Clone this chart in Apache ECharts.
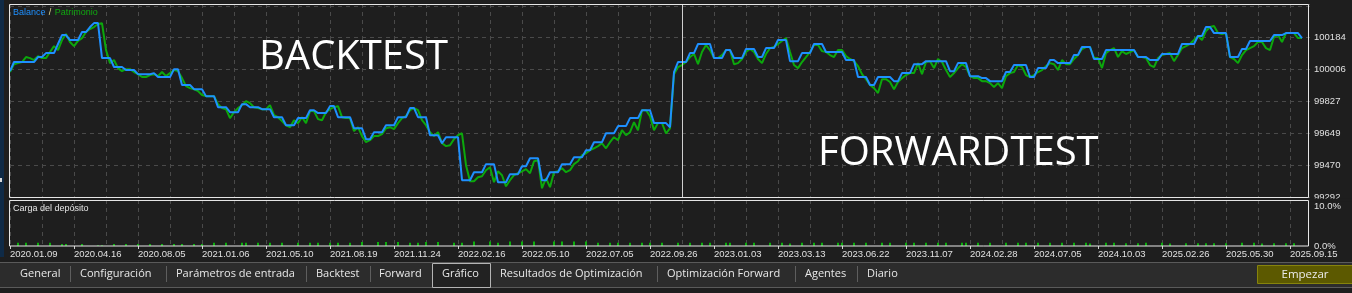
<!DOCTYPE html>
<html><head><meta charset="utf-8">
<script src="https://cdn.jsdelivr.net/npm/echarts@6/dist/echarts.min.js"></script>
<style>html,body{margin:0;padding:0;background:#1e1e1e;overflow:hidden}#c{width:1352px;height:293px}</style>
</head><body><div id="c"></div><script>
// ---- data ----
const dateLabels = ['2020.01.09','2020.04.16','2020.08.05','2021.01.06','2021.05.10','2021.08.19','2021.11.24',
  '2022.02.16','2022.05.10','2022.07.05','2022.09.26','2023.01.03','2023.03.13','2023.06.22','2023.11.07',
  '2024.02.28','2024.07.05','2024.10.03','2025.02.26','2025.05.30','2025.09.15'];
const yTickLabels = ['99292','99470','99649','99827','100006','100184'];
const loadTickLabels = ['0.0%','10.0%'];
const splitTradeIndex = 168;

const balance = [
99997,100048,100048,100048,100048,100048,100048,100076,100076,100098,
100098,100098,100149,100199,100199,100171,100171,100171,100216,100216,
100244,100266,100266,100070,100070,100070,100020,100020,100020,100003,
100003,100003,99980,99980,99980,99980,99986,99964,99964,99964,
99964,100008,100008,99919,99919,99919,99896,99896,99896,99857,
99857,99857,99795,99795,99795,99767,99767,99767,99812,99812,
99795,99795,99795,99784,99784,99784,99739,99739,99739,99694,
99694,99694,99734,99734,99734,99778,99778,99762,99762,99762,
99801,99801,99739,99739,99739,99739,99677,99677,99677,99616,
99616,99655,99655,99655,99694,99694,99694,99739,99739,99739,
99790,99790,99739,99739,99739,99638,99638,99638,99593,99627,
99627,99627,99627,99386,99386,99386,99431,99431,99431,99476,
99476,99476,99375,99375,99375,99420,99420,99420,99464,99464,
99509,99509,99509,99386,99386,99431,99431,99431,99476,99476,
99476,99515,99515,99515,99554,99554,99599,99599,99599,99649,
99649,99649,99689,99689,99689,99734,99734,99734,99778,99778,
99778,99706,99706,99706,99706,99683,99992,100048,100048,100048,
100098,100098,100149,100149,100149,100149,100070,100070,100070,100115,
100115,100070,100070,100070,100121,100121,100121,100076,100076,100126,
100126,100126,100171,100171,100171,100053,100053,100053,100098,100098,
100098,100149,100149,100149,100104,100104,100104,100104,100104,100059,
100059,100059,99964,99964,99964,99919,99919,99964,99964,99964,
99964,99941,99941,99986,99986,99986,100036,100036,100036,100053,
100053,100053,100053,100053,100053,99997,99997,100042,100042,100042,
99969,99969,99969,99958,99958,99941,99941,99941,99941,99992,
99992,100031,100031,100031,100031,99964,99964,100014,100014,100014,
100059,100059,100042,100042,100042,100042,100087,100087,100132,100132,
100132,100065,100065,100065,100115,100115,100115,100115,100115,100115,
100115,100115,100076,100076,100076,100059,100059,100059,100093,100093,
100093,100093,100093,100149,100149,100149,100149,100194,100194,100244,
100244,100210,100210,100210,100210,100076,100076,100076,100121,100121,
100166,100166,100166,100166,100166,100166,100199,100199,100199,100210,
100210,100210,100210,100182];

const equity = [
99992,100036,100042,100048,100076,100070,100059,100081,100070,100070,
100104,100137,100115,100171,100205,100160,100137,100166,100182,100216,
100233,100244,100261,100266,100115,100042,100059,100014,99997,100008,
100008,99992,99980,99964,99964,99975,99980,99969,99992,99969,
99986,100003,99997,99958,99913,99902,99896,99885,99863,99857,
99857,99857,99812,99790,99784,99734,99767,99790,99806,99829,
99818,99795,99790,99784,99784,99806,99750,99739,99717,99694,
99683,99722,99706,99739,99706,99773,99773,99728,99722,99767,
99784,99795,99801,99739,99734,99734,99661,99683,99633,99599,
99610,99633,99633,99644,99677,99683,99672,99706,99734,99745,
99778,99790,99778,99722,99694,99655,99633,99655,99593,99577,
99582,99616,99638,99649,99470,99380,99380,99403,99408,99442,
99459,99375,99436,99414,99352,99386,99414,99425,99436,99448,
99425,99492,99498,99341,99397,99347,99431,99436,99453,99431,
99442,99476,99492,99526,99537,99554,99565,99577,99593,99565,
99599,99627,99610,99666,99638,99655,99711,99666,99778,99778,
99745,99666,99706,99706,99649,99677,99980,100020,100031,100048,
100076,100093,100036,100104,100143,100115,100070,100070,100087,100115,
100115,100036,100042,100065,100104,100121,100104,100065,100042,100093,
100126,100132,100149,100166,100182,100104,100031,100014,100048,100076,
100104,100143,100143,100109,100104,100087,100076,100115,100115,100081,
100065,100053,100025,99980,99952,99919,99902,99874,99952,99952,
99936,99896,99936,99958,99975,99986,99986,100042,99980,100048,
100053,100014,100065,100048,100003,99964,99986,100014,100036,100020,
99969,99958,99958,99941,99941,99930,99908,99930,99902,99969,
99986,99992,100031,100020,99975,99964,99975,99992,100003,100025,
100042,100036,100003,100059,100036,100036,100065,100087,100121,100132,
100132,100070,100070,100014,100098,100115,100126,100076,100109,100093,
100104,100115,100076,100076,100070,100031,100020,100070,100087,100093,
100098,100053,100087,100126,100137,100149,100171,100194,100171,100222,
100244,100250,100210,100205,100210,100076,100065,100042,100087,100115,
100126,100137,100160,100160,100126,100115,100188,100199,100160,100210,
100210,100210,100182,100182];

// [trade index, deposit load %]
const loadBars = [
[2,0.8],[4,0.8],[7,0.8],[10,0.8],[13,0.5],[14,0.5],[18,0.5],[22,0.2],[23,0.2],[26,0.5],
[29,0.5],[32,0.5],[35,0.5],[38,0.5],[41,0.5],[43,0.5],[46,0.5],[48,0.5],[51,0.8],[54,0.8],
[58,0.8],[59,0.8],[62,0.8],[65,0.8],[68,0.8],[72,0.8],[75,0.8],[77,0.8],[80,0.8],[82,0.8],
[85,0.8],[88,1.0],[92,1.0],[94,1.0],[97,1.0],[100,0.8],[102,0.8],[104,1.0],[107,1.0],[111,0.8],
[113,0.8],[116,1.1],[120,1.1],[122,0.8],[125,1.1],[128,1.1],[131,1.1],[136,1.1],[138,1.1],[141,1.1],
[144,1.1],[147,0.8],[150,0.8],[152,0.8],[155,0.8],[158,0.8],[160,0.8],[163,0.8],[167,0.8],[170,0.8],
[173,0.8],[175,0.8],[179,0.8],[180,0.8],[184,0.8],[186,0.8],[190,0.8],[193,0.8],[195,0.6],[198,0.8],
[201,0.8],[203,0.8],[207,0.8],[208,0.8],[211,0.8],[214,0.8],[218,0.8],[220,0.8],[224,0.8],[226,0.8],
[229,0.8],[232,0.8],[234,0.8],[238,0.8],[239,0.8],[242,0.8],[245,0.8],[249,0.8],[252,0.8],[254,0.8],
[257,0.8],[260,0.8],[263,0.8],[266,0.8],[269,0.8],[270,0.6],[274,0.8],[276,0.8],[279,0.7],[282,0.7],
[284,0.8],[288,0.8],[290,0.6],[294,0.7],[297,0.7],[299,0.7],[301,0.7],[304,0.7],[308,0.8],[311,0.8],
[313,0.6],[316,0.7],[319,0.7],[321,0.7]];

const tabNames = ['General','Configuración','Parámetros de entrada','Backtest','Forward','Gráfico',
  'Resultados de Optimización','Optimización Forward','Agentes','Diario'];

// ---- layout ----
const N = 326;
const categories = [];
for (let i = 0; i < N; i++) categories.push(i % 16 === 0 ? (dateLabels[i / 16] || '') : '');

const BG = '#1e1e1e';
const GRIDC = '#4a4a4a';
const TXT = '#e0e0e0';
const AXF = 'Liberation Sans';

const tabX = [20, 80, 176, 316, 379, 442, 500, 667, 805, 867];
const sepX = [70, 166, 306, 370, 657, 795, 857];

const graphics = [
  {type:'rect', shape:{x:0,y:0,width:4,height:257}, style:{fill:'#0f2a46'}, silent:true},
  {type:'rect', shape:{x:0,y:178,width:2,height:4}, style:{fill:'#d8d8d8'}, silent:true},
  {type:'rect', z:100, shape:{x:9.5,y:4.5,width:1299,height:193}, style:{fill:null, stroke:'#e6e6e6', lineWidth:1}, silent:true},
  {type:'rect', z:100, shape:{x:9.5,y:200.5,width:1299,height:45.5}, style:{fill:null, stroke:'#e6e6e6', lineWidth:1}, silent:true},
  {type:'rect', z:101, shape:{x:1309.5,y:198.8,width:42,height:2.4}, style:{fill:BG}, silent:true},
  {type:'text', z:100, x:13, y:13, style:{text:'{b|Balance} {s|/} {p|Patrimonio}', verticalAlign:'middle',
     rich:{b:{fill:'#1e90ff', fontSize:9, fontFamily:AXF}, s:{fill:'#e0d890', fontSize:9, fontFamily:AXF}, p:{fill:'#10a810', fontSize:9, fontFamily:AXF}}}},
  {type:'text', z:100, x:13, y:209, style:{text:'Carga del depósito', fill:'#e6e6e6', fontSize:9, fontFamily:AXF, verticalAlign:'middle'}},
  {type:'text', z:50, x:259, y:58, style:{text:'BACKTEST', fill:'#ffffff', fontSize:40, fontFamily:'Open Sans', verticalAlign:'middle'}},
  {type:'text', z:50, x:818, y:154, style:{text:'FORWARDTEST', fill:'#ffffff', fontSize:40, fontFamily:'Open Sans', verticalAlign:'middle'}},
  // tab bar
  {type:'rect', shape:{x:0,y:262,width:1352,height:26}, style:{fill:'#2c2c2c'}, silent:true},
  {type:'line', shape:{x1:0,y1:262.5,x2:1352,y2:262.5}, style:{stroke:'#5a5a5a', lineWidth:1}, silent:true},
  {type:'line', shape:{x1:0,y1:287.5,x2:1352,y2:287.5}, style:{stroke:'#5a5a5a', lineWidth:1}, silent:true},
  {type:'rect', shape:{x:432.5,y:263.5,width:58,height:24}, style:{fill:'#222222', stroke:'#b4b4b4', lineWidth:1}, silent:true},
  {type:'rect', shape:{x:1257.5,y:265.5,width:96,height:18}, style:{fill:'#5c5900', stroke:'#86830c', lineWidth:1}, silent:true},
  {type:'text', x:1305, y:274.5, style:{text:'Empezar', fill:'#ececec', fontSize:11.5, fontFamily:'Open Sans', align:'center', verticalAlign:'middle'}}
];
tabNames.forEach((t, i) => graphics.push({type:'text', x:tabX[i], y:274, style:{text:t, fill:'#e8e8e8', fontSize:11, fontFamily:'Open Sans', verticalAlign:'middle'}}));
sepX.forEach(x => graphics.push({type:'line', shape:{x1:x+0.5,y1:266,x2:x+0.5,y2:282}, style:{stroke:'#5e5e5e', lineWidth:1}, silent:true}));

const chart = echarts.init(document.getElementById('c'), null, {renderer:'canvas'});
chart.setOption({
  backgroundColor: BG,
  animation: false,
  grid: [
    {left:10, top:4, width:1300, height:193, containLabel:false, outerBoundsMode:'none'},
    {left:10, top:200, width:1300, height:46, containLabel:false, outerBoundsMode:'none'}
  ],
  xAxis: [
    {type:'category', gridIndex:0, data:categories, boundaryGap:false,
     axisLine:{show:false}, axisTick:{show:false}, axisLabel:{show:false},
     splitLine:{show:true, interval:7, lineStyle:{color:GRIDC, type:[4,4], width:1}}},
    {type:'category', gridIndex:1, data:categories, boundaryGap:false,
     axisLine:{show:false},
     axisTick:{show:true, interval:15, length:3, lineStyle:{color:'#d0d0d0'}},
     axisLabel:{show:true, interval:15, align:'left', color:TXT, fontSize:9.5, fontFamily:AXF, margin:3},
     splitLine:{show:true, interval:7, lineStyle:{color:GRIDC, type:[4,4], width:1}}}
  ],
  yAxis: [
    {type:'value', gridIndex:0, position:'right', min:99292, max:100373, interval:178.4, scale:true,
     axisLine:{show:false}, axisTick:{show:false},
     axisLabel:{color:TXT, fontSize:9.5, fontFamily:AXF, margin:4, formatter:(v, i) => yTickLabels[i] || ''},
     splitLine:{show:true, lineStyle:{color:GRIDC, type:[4,4], width:1}}},
    {type:'value', gridIndex:1, position:'right', min:0, max:11.5, interval:10,
     axisLine:{show:false}, axisTick:{show:false},
     axisLabel:{color:TXT, fontSize:9.5, fontFamily:AXF, margin:4, formatter:(v, i) => loadTickLabels[i] || ''},
     splitLine:{show:false}}
  ],
  series: [
    {name:'Patrimonio', type:'line', xAxisIndex:0, yAxisIndex:0, data:equity, symbol:'none', z:2,
     lineStyle:{color:'#0ca80c', width:2}},
    {name:'Balance', type:'line', xAxisIndex:0, yAxisIndex:0, data:balance, symbol:'none', z:3,
     lineStyle:{color:'#1e90ff', width:2},
     markLine:{silent:true, symbol:'none', label:{show:false}, lineStyle:{color:'#cfcfcf', width:1, type:'solid'},
       data:[{xAxis:splitTradeIndex}]}},
    {name:'Carga', type:'bar', xAxisIndex:1, yAxisIndex:1, data:loadBars, barWidth:2,
     itemStyle:{color:'#0cae0c'}}
  ],
  graphic: graphics
});
</script></body></html>
